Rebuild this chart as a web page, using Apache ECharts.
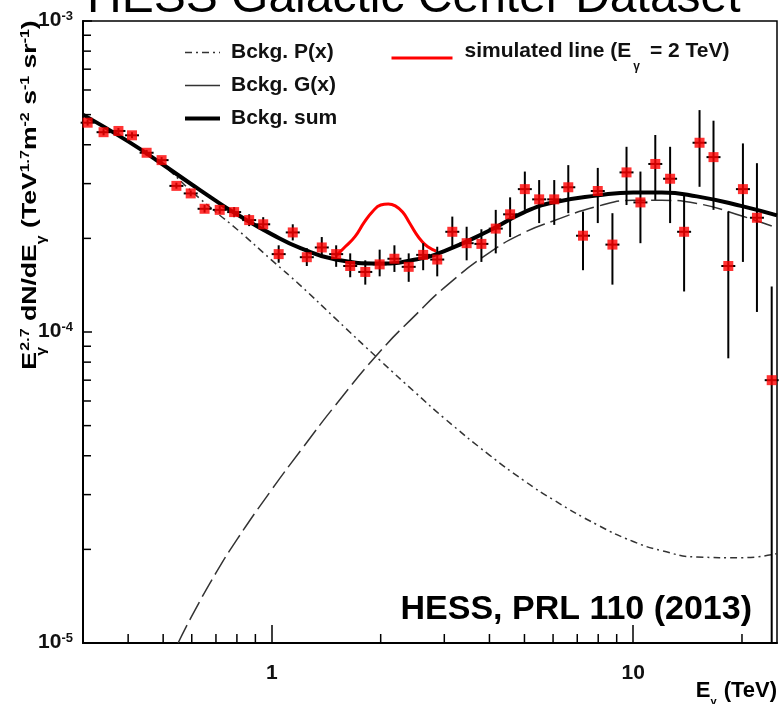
<!DOCTYPE html>
<html>
<head>
<meta charset="utf-8">
<title>HESS Galactic Center Dataset</title>
<script src="https://cdn.jsdelivr.net/npm/echarts@6/dist/echarts.min.js"></script>
<style>
    html, body { margin: 0; padding: 0; background: #fff; }
    #chart { width: 781px; height: 704px; }
</style>
</head>
<body>
<div id="chart"></div>
<script>
var FONT = '"Liberation Sans", Arial, sans-serif';

// measured spectrum, E (TeV) and E^2.7 dN/dE
var energies = [0.309, 0.342, 0.376, 0.410, 0.450, 0.495, 0.544, 0.596, 0.651, 0.717,
    0.786, 0.865, 0.946, 1.044, 1.142, 1.249, 1.374, 1.506, 1.647, 1.813,
    1.987, 2.183, 2.391, 2.622, 2.868, 3.157, 3.459, 3.800, 4.164, 4.563,
    5.012, 5.491, 6.045, 6.611, 7.262, 7.978, 8.759, 9.582, 10.47, 11.51,
    12.65, 13.83, 15.26, 16.68, 18.33, 20.12, 22.00, 24.17];
var flux = [4.71e-4, 4.39e-4, 4.43e-4, 4.29e-4, 3.77e-4, 3.57e-4, 2.95e-4, 2.79e-4, 2.49e-4, 2.47e-4,
    2.43e-4, 2.29e-4, 2.22e-4, 1.78e-4, 2.09e-4, 1.74e-4, 1.87e-4, 1.78e-4, 1.63e-4, 1.56e-4,
    1.65e-4, 1.72e-4, 1.62e-4, 1.77e-4, 1.71e-4, 2.10e-4, 1.93e-4, 1.92e-4, 2.15e-4, 2.39e-4,
    2.88e-4, 2.67e-4, 2.67e-4, 2.92e-4, 2.04e-4, 2.84e-4, 1.91e-4, 3.26e-4, 2.61e-4, 3.47e-4,
    3.11e-4, 2.10e-4, 4.06e-4, 3.65e-4, 1.63e-4, 2.88e-4, 2.33e-4, 0.70e-4];
var fluxLow = [4.61e-4, 4.29e-4, 4.33e-4, 4.20e-4, 3.69e-4, 3.49e-4, 2.89e-4, 2.73e-4, 2.42e-4, 2.40e-4,
    2.34e-4, 2.19e-4, 2.11e-4, 1.67e-4, 1.97e-4, 1.63e-4, 1.73e-4, 1.62e-4, 1.50e-4, 1.42e-4,
    1.51e-4, 1.56e-4, 1.45e-4, 1.58e-4, 1.51e-4, 1.86e-4, 1.70e-4, 1.68e-4, 1.79e-4, 2.02e-4,
    2.47e-4, 2.24e-4, 2.21e-4, 2.41e-4, 1.58e-4, 2.24e-4, 1.42e-4, 2.56e-4, 1.93e-4, 2.66e-4,
    2.24e-4, 1.35e-4, 2.93e-4, 2.47e-4, 0.823e-4, 1.68e-4, 1.16e-4, 0.10e-4];
var fluxHigh = [4.82e-4, 4.49e-4, 4.53e-4, 4.39e-4, 3.85e-4, 3.65e-4, 3.02e-4, 2.85e-4, 2.56e-4, 2.54e-4,
    2.52e-4, 2.39e-4, 2.34e-4, 1.90e-4, 2.22e-4, 1.86e-4, 2.02e-4, 1.90e-4, 1.79e-4, 1.70e-4,
    1.84e-4, 1.90e-4, 1.79e-4, 1.93e-4, 1.88e-4, 2.35e-4, 2.18e-4, 2.14e-4, 2.47e-4, 2.71e-4,
    3.28e-4, 3.08e-4, 3.08e-4, 3.44e-4, 2.44e-4, 3.37e-4, 2.41e-4, 3.94e-4, 3.28e-4, 4.30e-4,
    3.94e-4, 2.76e-4, 5.17e-4, 4.78e-4, 2.44e-4, 4.04e-4, 3.49e-4, 1.40e-4];

// background model curves
var curveE = [0.3, 0.4, 0.5, 0.6, 0.7, 0.8, 1, 1.2, 1.5, 2, 2.5, 3, 4, 5, 6, 8, 10, 12, 15, 20, 25];
var sumFlux = [5.0e-4, 4.10e-4, 3.45e-4, 2.98e-4, 2.64e-4, 2.39e-4, 2.06e-4, 1.86e-4, 1.71e-4, 1.66e-4,
    1.71e-4, 1.82e-4, 2.12e-4, 2.43e-4, 2.61e-4, 2.75e-4, 2.81e-4, 2.81e-4, 2.73e-4, 2.54e-4, 2.37e-4];
var pFlux = [5.0e-4, 4.10e-4, 3.43e-4, 2.83e-4, 2.43e-4, 2.14e-4, 1.70e-4, 1.41e-4, 1.104e-4, 0.807e-4,
    0.637e-4, 0.528e-4, 0.402e-4, 0.332e-4, 0.289e-4, 0.239e-4, 0.212e-4, 0.198e-4, 0.189e-4, 0.188e-4, 0.194e-4];
var gE = [0.55, 0.6, 0.7, 0.8, 1, 1.2, 1.5, 2, 2.5, 3, 4, 5, 6, 8, 10, 12, 15, 20, 25];
var gFlux = [0.100e-4, 0.122e-4, 0.168e-4, 0.215e-4, 0.312e-4, 0.415e-4, 0.582e-4, 0.870e-4, 1.135e-4, 1.389e-4,
    1.80e-4, 2.09e-4, 2.275e-4, 2.54e-4, 2.65e-4, 2.65e-4, 2.59e-4, 2.36e-4, 2.16e-4];

// simulated 2 TeV line on top of the background
var lineE = [1.5, 1.6, 1.7, 1.8, 1.9, 2.0, 2.1, 2.2, 2.3, 2.4, 2.5, 2.6, 2.7, 2.85];
var lineFlux = [1.75e-4, 1.886e-4, 2.03e-4, 2.25e-4, 2.44e-4, 2.56e-4, 2.58e-4, 2.54e-4, 2.43e-4, 2.25e-4,
    2.08e-4, 1.957e-4, 1.88e-4, 1.82e-4];

// axes
var xMin = 0.3, xMax = 25;
var yMin = 1e-5, yMax = 1e-3;
var xMinorTicks = [0.4, 0.5, 0.6, 0.7, 0.8, 0.9, 2, 3, 4, 5, 6, 7, 8, 9, 20];
var yMinorTicks = [2e-5, 3e-5, 4e-5, 5e-5, 6e-5, 7e-5, 8e-5, 9e-5,
    2e-4, 3e-4, 4e-4, 5e-4, 6e-4, 7e-4, 8e-4, 9e-4];

function zip(a, b) {
    var out = [];
    for (var i = 0; i < a.length; i++) out.push([a[i], b[i]]);
    return out;
}

var errData = [];
for (var i = 0; i < energies.length; i++) {
    errData.push([energies[i], fluxLow[i], fluxHigh[i], flux[i]]);
}

var chart = echarts.init(document.getElementById('chart'));

var supRich = {
    m: { fontFamily: FONT, fontSize: 20, fontWeight: 'bold', color: '#111', lineHeight: 22, verticalAlign: 'top' },
    sup: { fontFamily: FONT, fontSize: 12, fontWeight: 'bold', color: '#111', lineHeight: 12, verticalAlign: 'top' },
    sub: { fontFamily: FONT, fontSize: 12, fontWeight: 'bold', color: '#111', lineHeight: 12, verticalAlign: 'top', padding: [16, 0, 0, 0] },
    // subscript that takes no room, so the next superscript stacks over it
    subz: { fontFamily: FONT, fontSize: 12, fontWeight: 'bold', color: '#111', lineHeight: 12, verticalAlign: 'top', padding: [16, 0, 0, 0], width: 1 }
};
var xNameRich = {
    m: { fontFamily: FONT, fontSize: 22, fontWeight: 'bold', color: '#111', lineHeight: 22, verticalAlign: 'top' },
    sub: { fontFamily: FONT, fontSize: 11, fontWeight: 'bold', color: '#111', lineHeight: 11, verticalAlign: 'top', padding: [16, 1, 0, 0] }
};

var option = {
    animation: false,
    backgroundColor: '#fff',
    title: [{
        text: 'HESS Galactic Center Dataset',
        left: 87,
        top: -25,
        padding: 0,
        textStyle: { fontFamily: FONT, fontSize: 48, fontWeight: 'normal', color: '#000' }
    }, {
        text: 'HESS, PRL 110 (2013)',
        right: 29,
        top: 593,
        padding: 0,
        textStyle: { fontFamily: FONT, fontSize: 34, fontWeight: 'bold', color: '#000' }
    }],
    legend: [{
        orient: 'vertical',
        left: 183,
        top: 42,
        padding: 0,
        itemWidth: 35,
        itemHeight: 14,
        itemGap: 12,
        selectedMode: false,
        textStyle: { fontFamily: FONT, fontSize: 21, fontWeight: 'bold', color: '#111', lineHeight: 20, padding: [0, 0, 0, 6] },
        data: [
            { name: 'Bckg. P(x)', itemStyle: { opacity: 0 }, lineStyle: { color: '#333', width: 1.5, type: [7, 4, 2, 4] } },
            { name: 'Bckg. G(x)', itemStyle: { opacity: 0 }, lineStyle: { color: '#333', width: 1.5, type: 'solid' } },
            { name: 'Bckg. sum', itemStyle: { opacity: 0 }, lineStyle: { color: '#000', width: 4, type: 'solid' } }
        ]
    }, {
        left: 390,
        top: 41,
        padding: 0,
        itemWidth: 61,
        itemHeight: 14,
        selectedMode: false,
        formatter: function () {
            return '{m|simulated line (E}{sub|γ}{m| = 2 TeV)}';
        },
        textStyle: {
            padding: [0, 0, 14, 7],
            rich: {
                m: { fontFamily: FONT, fontSize: 21, fontWeight: 'bold', color: '#111', lineHeight: 20, verticalAlign: 'top' },
                sub: { fontFamily: FONT, fontSize: 12, fontWeight: 'bold', color: '#111', lineHeight: 12, verticalAlign: 'top', padding: [20, 4, 0, 2] }
            }
        },
        data: [{ name: 'simulated line', itemStyle: { opacity: 0 }, lineStyle: { color: '#ff0000', width: 3, type: 'solid' } }]
    }],
    grid: {
        left: 83,
        right: 4,
        top: 21,
        bottom: 61,
        show: true,
        borderColor: '#000',
        borderWidth: 1.5
    },
    xAxis: {
        type: 'log',
        logBase: 10,
        min: xMin,
        max: xMax,
        axisLine: { lineStyle: { color: '#000', width: 2 } },
        axisTick: { inside: true, length: 18, lineStyle: { color: '#000', width: 1.5 } },
        splitLine: { show: false },
        axisLabel: {
            margin: 20,
            showMinLabel: false,
            showMaxLabel: false,
            fontFamily: FONT,
            fontSize: 21,
            fontWeight: 'bold',
            color: '#111'
        }
    },
    yAxis: {
        type: 'log',
        logBase: 10,
        min: yMin,
        max: yMax,
        axisLine: { lineStyle: { color: '#000', width: 2 } },
        axisTick: { inside: true, length: 9, lineStyle: { color: '#000', width: 1.5 } },
        splitLine: { show: false },
        axisLabel: {
            margin: 10,
            formatter: function (v) {
                return '{b|10}{s|' + Math.round(Math.log10(v)) + '}';
            },
            rich: {
                b: { fontFamily: FONT, fontSize: 21, fontWeight: 'bold', color: '#111', lineHeight: 22, verticalAlign: 'top' },
                s: { fontFamily: FONT, fontSize: 13, fontWeight: 'bold', color: '#111', lineHeight: 13, verticalAlign: 'top' }
            }
        }
    },
    graphic: [{
        type: 'text',
        x: 31,
        y: 195,
        rotation: Math.PI / 2,
        scaleX: 1.33,
        style: {
            text: '{m|E}{subz|γ}{sup|2.7}{m| dN/dE}{sub|γ}{m| (TeV}{sup|1.7}{m|m}{sup|-2}{m| s}{sup|-1}{m| sr}{sup|-1}{m|)}',
            rich: supRich,
            align: 'center',
            verticalAlign: 'middle'
        }
    }, {
        type: 'text',
        x: 777,
        y: 691,
        style: {
            text: '{m|E}{sub|γ}{m| (TeV)}',
            rich: xNameRich,
            align: 'right',
            verticalAlign: 'middle'
        }
    }],
    series: [{
        name: 'minor x ticks',
        type: 'custom',
        silent: true,
        data: xMinorTicks.map(function (v) { return [v, yMin]; }),
        renderItem: function (params, api) {
            var p = api.coord([api.value(0), api.value(1)]);
            return { type: 'line', shape: { x1: p[0], y1: p[1], x2: p[0], y2: p[1] - 9 },
                style: { stroke: '#000', lineWidth: 1.5 } };
        }
    }, {
        name: 'minor y ticks',
        type: 'custom',
        silent: true,
        data: yMinorTicks.map(function (v) { return [xMin, v]; }),
        renderItem: function (params, api) {
            var p = api.coord([api.value(0), api.value(1)]);
            return { type: 'line', shape: { x1: p[0], y1: p[1], x2: p[0] + 8, y2: p[1] },
                style: { stroke: '#000', lineWidth: 1.5 } };
        }
    }, {
        name: 'Bckg. P(x)',
        type: 'line',
        data: zip(curveE, pFlux),
        smooth: true,
        symbol: 'none',
        z: 3,
        itemStyle: { color: '#333' },
        lineStyle: { color: '#333', width: 1.5, type: [7, 4, 2, 4] }
    }, {
        name: 'Bckg. G(x)',
        type: 'line',
        data: zip(gE, gFlux),
        smooth: true,
        symbol: 'none',
        z: 3,
        itemStyle: { color: '#333' },
        lineStyle: { color: '#333', width: 1.5, type: [20, 6] }
    }, {
        name: 'simulated line',
        type: 'line',
        data: zip(lineE, lineFlux),
        smooth: true,
        symbol: 'none',
        z: 3,
        itemStyle: { color: '#ff0000' },
        lineStyle: { color: '#ff0000', width: 3 }
    }, {
        name: 'Bckg. sum',
        type: 'line',
        data: zip(curveE, sumFlux),
        smooth: true,
        symbol: 'none',
        z: 4,
        itemStyle: { color: '#000' },
        lineStyle: { color: '#000', width: 4 }
    }, {
        name: 'errors',
        type: 'custom',
        silent: true,
        z: 5,
        encode: { x: 0, y: [1, 2, 3] },
        data: errData,
        renderItem: function (params, api) {
            var x = api.value(0);
            var lo = api.coord([x, api.value(1)]);
            var hi = api.coord([x, api.value(2)]);
            var c = api.coord([x, api.value(3)]);
            return {
                type: 'group',
                children: [
                    { type: 'line', shape: { x1: lo[0], y1: lo[1], x2: hi[0], y2: hi[1] },
                        style: { stroke: '#000', lineWidth: 2 } },
                    { type: 'line', shape: { x1: c[0] - 7, y1: c[1], x2: c[0] + 7, y2: c[1] },
                        style: { stroke: '#000', lineWidth: 2 } }
                ]
            };
        }
    }, {
        name: 'data',
        type: 'scatter',
        data: zip(energies, flux),
        symbol: 'rect',
        symbolSize: 10,
        z: 6,
        itemStyle: { color: '#ff0000' }
    }]
};

chart.setOption(option);
</script>
</body>
</html>
